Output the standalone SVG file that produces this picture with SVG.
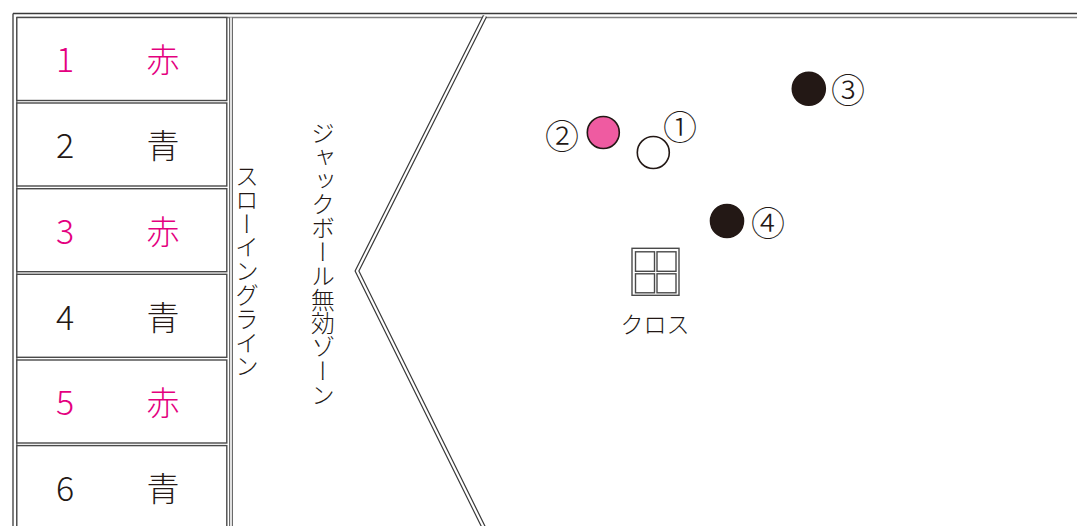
<svg xmlns="http://www.w3.org/2000/svg" width="1077" height="526" viewBox="0 0 1077 526">
<style>
text{font-family:"Noto Sans CJK JP","Noto Sans",sans-serif;fill:#231815;font-weight:300}
.num{font-size:34px;text-anchor:middle}
.kan{font-size:33px;text-anchor:middle}
.red{fill:#e4007f}
.cell{fill:#fff;stroke:#4a4a4a;stroke-width:1.4}
.dl-o{fill:none;stroke:#3a3a3a;stroke-width:4.6}
.dl-i{fill:none;stroke:#fff;stroke-width:2.2}
.vt{font-size:23.8px;writing-mode:vertical-rl}
.circ{font-size:34px;text-anchor:middle;dominant-baseline:central}
.ball{stroke:#231815;stroke-width:1.6}
</style>
<rect width="1077" height="526" fill="#fff"/>
<g id="frame">
<line x1="13" y1="13.5" x2="1077" y2="13.5" stroke="#3a3a3a" stroke-width="1.3"/>
<line x1="13" y1="13.5" x2="13" y2="526" stroke="#3a3a3a" stroke-width="1.3"/>
<line x1="16.8" y1="17.5" x2="1077" y2="17.5" stroke="#808080" stroke-width="1.6"/>
<line x1="16.8" y1="17.5" x2="16.8" y2="526" stroke="#808080" stroke-width="1.6"/>
</g>
<g id="separator">
<line x1="231" y1="17.5" x2="231" y2="526" stroke="#6a6a6a" stroke-width="4"/>
<line x1="231" y1="17.5" x2="231" y2="526" stroke="#fff" stroke-width="1.6"/>
</g>
<g id="jack-zone-line">
<polyline class="dl-o" points="485,16 357,271 484,528"/>
<polyline class="dl-i" points="485,16 357,271 484,528"/>
</g>
<g id="row1"><rect class="cell" x="16.8" y="17.5" width="210" height="83"/><text class="num red" x="65" y="72">1</text><text class="kan red" x="163" y="72">赤</text></g>
<g id="row2"><rect class="cell" x="16.8" y="103" width="210" height="83"/><text class="num" x="65" y="158">2</text><text class="kan" x="163" y="158">青</text></g>
<g id="row3"><rect class="cell" x="16.8" y="188.7" width="210" height="83"/><text class="num red" x="65" y="243.5">3</text><text class="kan red" x="163" y="243.5">赤</text></g>
<g id="row4"><rect class="cell" x="16.8" y="274.3" width="210" height="83"/><text class="num" x="65" y="329.5">4</text><text class="kan" x="163" y="329.5">青</text></g>
<g id="row5"><rect class="cell" x="16.8" y="360" width="210" height="83"/><text class="num red" x="65" y="415">5</text><text class="kan red" x="163" y="415">赤</text></g>
<g id="row6"><rect class="cell" x="16.8" y="445.6" width="210" height="90"/><text class="num" x="65" y="500.5">6</text><text class="kan" x="163" y="500.5">青</text></g>
<g id="throwing-line-label"><text class="vt" x="247" y="164">スローイングライン</text></g>
<g id="jack-invalid-label"><text class="vt" x="323" y="121">ジャックボール無効ゾーン</text></g>
<g id="ball1"><circle class="ball" cx="653.3" cy="152.5" r="16" fill="#fff"/><text class="circ" x="680" y="125">①</text></g>
<g id="ball2"><circle class="ball" cx="603.3" cy="132.5" r="16" fill="#ef5ba1"/><text class="circ" x="562" y="134">②</text></g>
<g id="ball3"><circle class="ball" cx="808.8" cy="88.8" r="16.5" fill="#231815"/><text class="circ" x="848" y="88">③</text></g>
<g id="ball4"><circle class="ball" cx="727" cy="221" r="16.5" fill="#231815"/><text class="circ" x="768" y="221.5">④</text></g>
<g id="cross">
<rect x="632" y="248.3" width="47" height="47" fill="#fff" stroke="#4a4a4a" stroke-width="1.4"/>
<rect x="635.5" y="251.8" width="19" height="19.5" fill="none" stroke="#4a4a4a" stroke-width="1.4"/>
<rect x="657" y="251.8" width="19" height="19.5" fill="none" stroke="#4a4a4a" stroke-width="1.4"/>
<rect x="635.5" y="273.8" width="19" height="19" fill="none" stroke="#4a4a4a" stroke-width="1.4"/>
<rect x="657" y="273.8" width="19" height="19" fill="none" stroke="#4a4a4a" stroke-width="1.4"/>
<text x="655" y="333" style="font-size:23px;text-anchor:middle">クロス</text>
</g>
</svg>
